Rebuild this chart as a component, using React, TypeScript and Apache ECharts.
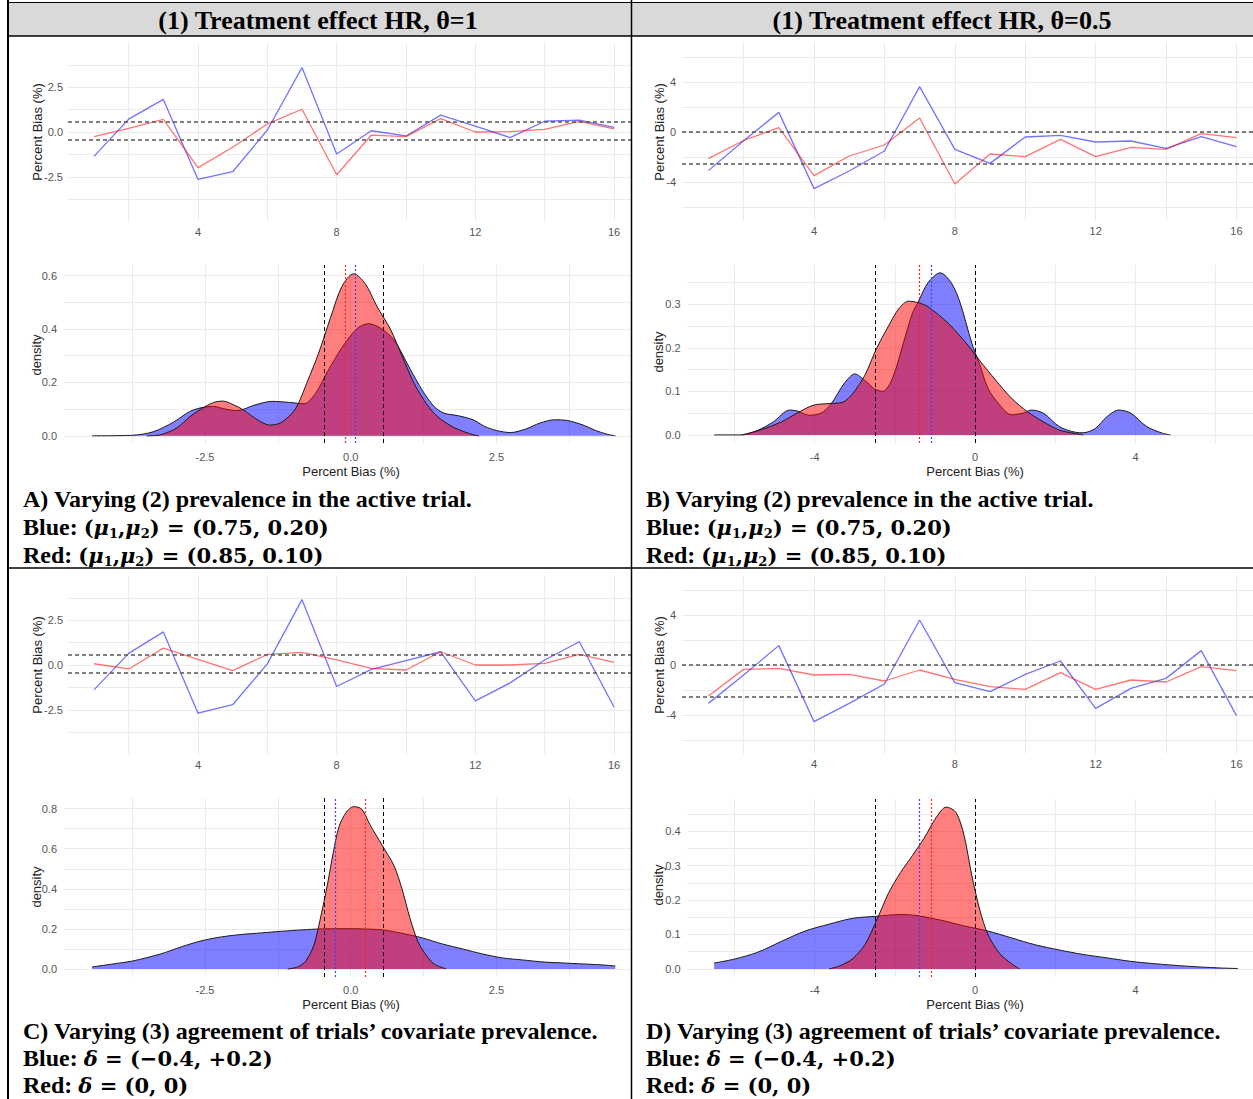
import React, { useEffect, useRef } from "react";
import * as echarts from "echarts";

// ---------- data ----------
const trials = [1, 2, 3, 4, 5, 6, 7, 8, 9, 10, 11, 12, 13, 14, 15, 16];

const blueA = [-1.36, 0.72, 1.82, -2.65, -2.22, 0.11, 3.6, -1.23, 0.07, -0.22, 0.94, 0.33, -0.31, 0.6, 0.66, 0.26];
const redA = [-0.26, 0.2, 0.7, -1.99, -0.85, 0.45, 1.27, -2.39, -0.17, -0.26, 0.75, 0.0, 0.02, 0.15, 0.6, 0.17];
const blueB = [-3.09, -0.7, 1.57, -4.53, -3.12, -1.52, 3.63, -1.39, -2.51, -0.4, -0.27, -0.8, -0.72, -1.31, -0.37, -1.17];
const redB = [-2.13, -0.68, 0.35, -3.49, -1.92, -1.04, 1.12, -4.16, -1.76, -1.97, -0.59, -1.97, -1.23, -1.39, -0.13, -0.45];
const blueC = [-1.39, 0.65, 1.85, -2.69, -2.22, 0.06, 3.65, -1.2, -0.24, 0.24, 0.74, -2.0, -1.0, 0.28, 1.3, -2.35];
const redC = [0.07, -0.22, 0.94, 0.31, -0.31, 0.59, 0.7, 0.28, -0.19, -0.28, 0.74, 0.0, 0.0, 0.09, 0.59, 0.15];
const blueD = [-3.07, -0.8, 1.55, -4.53, -3.07, -1.52, 3.6, -1.41, -2.13, -0.75, 0.32, -3.47, -1.87, -1.07, 1.15, -4.05];
const redD = [-2.48, -0.35, -0.27, -0.8, -0.75, -1.28, -0.4, -1.15, -1.73, -1.95, -0.61, -1.95, -1.2, -1.36, -0.13, -0.45];

const dashedAC = [0.55, -0.45];
const dashedBD = [0, -2.5];

// density curves: [percent bias, density]
const densBlueA = [
  [-4.44, 0], [-3.74, 0.002], [-3.39, 0.015], [-3.05, 0.05], [-2.77, 0.09], [-2.57, 0.105], [-2.36, 0.11],
  [-2.15, 0.1], [-1.95, 0.094], [-1.65, 0.115], [-1.35, 0.129], [-1.05, 0.125], [-0.8, 0.12], [-0.6, 0.16],
  [-0.4, 0.24], [-0.15, 0.33], [0.1, 0.4], [0.3, 0.42], [0.5, 0.405], [0.74, 0.36], [1.02, 0.25], [1.23, 0.17],
  [1.43, 0.11], [1.6, 0.085], [1.85, 0.075], [2.1, 0.06], [2.3, 0.035], [2.5, 0.02], [2.74, 0.012], [3.0, 0.025],
  [3.25, 0.048], [3.5, 0.06], [3.7, 0.058], [3.99, 0.04], [4.2, 0.02], [4.4, 0.006], [4.54, 0],
];
const densRedA = [
  [-3.5, 0], [-3.26, 0.004], [-2.98, 0.03], [-2.77, 0.07], [-2.57, 0.1], [-2.35, 0.125], [-2.19, 0.13],
  [-2.0, 0.115], [-1.85, 0.098], [-1.6, 0.06], [-1.39, 0.04], [-1.19, 0.05], [-0.95, 0.1], [-0.75, 0.2],
  [-0.55, 0.31], [-0.35, 0.44], [-0.15, 0.56], [0.05, 0.607], [0.25, 0.57], [0.45, 0.485], [0.68, 0.4],
  [0.88, 0.3], [1.08, 0.2], [1.3, 0.12], [1.5, 0.07], [1.78, 0.03], [2.1, 0.004], [2.2, 0],
];
const densBlueB = [
  [-6.51, 0], [-5.82, 0.0], [-5.43, 0.01], [-5.03, 0.03], [-4.63, 0.057], [-4.44, 0.055], [-4.14, 0.045],
  [-3.84, 0.05], [-3.6, 0.07], [-3.25, 0.12], [-3.0, 0.14], [-2.75, 0.125], [-2.5, 0.105], [-2.3, 0.1],
  [-2.06, 0.13], [-1.76, 0.22], [-1.56, 0.28], [-1.42, 0.305], [-1.17, 0.35], [-0.87, 0.372], [-0.6, 0.35],
  [-0.38, 0.305], [-0.08, 0.21], [0.12, 0.16], [0.32, 0.107], [0.61, 0.069], [0.91, 0.046], [1.2, 0.05],
  [1.4, 0.057], [1.7, 0.05], [2.1, 0.019], [2.5, 0.006], [2.7, 0.005], [3.0, 0.015], [3.29, 0.042],
  [3.58, 0.057], [3.88, 0.05], [4.28, 0.019], [4.67, 0.004], [4.87, 0],
];
const densRedB = [
  [-5.82, 0], [-5.33, 0.012], [-4.83, 0.03], [-4.44, 0.05], [-4.04, 0.068], [-3.64, 0.072], [-3.3, 0.075],
  [-3.05, 0.095], [-2.75, 0.137], [-2.46, 0.198], [-2.16, 0.25], [-1.9, 0.29], [-1.66, 0.307], [-1.4, 0.303],
  [-1.17, 0.294], [-0.67, 0.256], [-0.18, 0.206], [0.12, 0.17], [0.51, 0.126], [0.91, 0.084], [1.31, 0.053],
  [1.7, 0.03], [2.1, 0.011], [2.5, 0.003], [2.7, 0],
];
const densBlueC = [
  [-4.44, 0.01], [-4.08, 0.025], [-3.74, 0.04], [-3.26, 0.075], [-2.91, 0.11], [-2.57, 0.14], [-2.22, 0.16],
  [-1.88, 0.172], [-1.53, 0.18], [-1.19, 0.188], [-0.84, 0.195], [-0.5, 0.2], [-0.15, 0.201], [0.19, 0.2],
  [0.54, 0.195], [0.88, 0.178], [1.23, 0.155], [1.57, 0.125], [1.92, 0.1], [2.26, 0.075], [2.61, 0.055],
  [2.95, 0.045], [3.3, 0.035], [3.64, 0.03], [3.99, 0.025], [4.33, 0.02], [4.54, 0.015],
];
const densRedC = [
  [-1.08, 0], [-0.91, 0.01], [-0.77, 0.04], [-0.63, 0.12], [-0.5, 0.28], [-0.4, 0.42], [-0.3, 0.58],
  [-0.2, 0.71], [-0.08, 0.78], [0.05, 0.81], [0.19, 0.797], [0.33, 0.72], [0.54, 0.617], [0.74, 0.517],
  [0.88, 0.4], [1.02, 0.25], [1.16, 0.133], [1.3, 0.067], [1.43, 0.025], [1.64, 0],
];
const densBlueD = [
  [-6.51, 0.017], [-6.02, 0.028], [-5.43, 0.048], [-4.83, 0.08], [-4.24, 0.11], [-3.64, 0.13], [-3.05, 0.147],
  [-2.46, 0.153], [-1.86, 0.158], [-1.47, 0.155], [-0.87, 0.142], [-0.28, 0.125], [0.32, 0.11], [0.91, 0.09],
  [1.5, 0.07], [2.1, 0.055], [2.69, 0.042], [3.29, 0.032], [3.88, 0.022], [4.48, 0.015], [5.27, 0.008],
  [6.06, 0.003], [6.55, 0.001],
];
const densRedD = [
  [-3.64, 0], [-3.35, 0.01], [-3.05, 0.03], [-2.75, 0.07], [-2.46, 0.14], [-2.16, 0.22], [-1.86, 0.28],
  [-1.56, 0.33], [-1.27, 0.38], [-0.97, 0.44], [-0.72, 0.47], [-0.48, 0.455], [-0.28, 0.39], [-0.08, 0.27],
  [0.12, 0.17], [0.32, 0.1], [0.61, 0.045], [0.91, 0.015], [1.11, 0],
];

// vertical reference lines in the density panels
const densDashedAC = [-0.45, 0.55];
const densDashedBD = [-2.5, 0];
const meanRedA = -0.09, meanBlueA = 0.07;
const meanRedB = -1.39, meanBlueB = -1.1;
const meanRedC = 0.25, meanBlueC = -0.27;
const meanRedD = -1.1, meanBlueD = -1.39;

// tick values
const lineXTicks = [2, 4, 6, 8, 10, 12, 14, 16];
const lineXLabels = [4, 8, 12, 16];
const biasTicksAC = [-3.75, -2.5, -1.25, 0, 1.25, 2.5, 3.75];
const biasLabelsAC = [-2.5, 0, 2.5];
const biasTicksBD = [-6, -4, -2, 0, 2, 4, 6];
const biasLabelsBD = [-4, 0, 4];
const densYTicksA = [0, 0.1, 0.2, 0.3, 0.4, 0.5, 0.6];
const densYLabelsA = [0, 0.2, 0.4, 0.6];
const densYTicksB = [0, 0.05, 0.1, 0.15, 0.2, 0.25, 0.3, 0.35];
const densYLabelsB = [0, 0.1, 0.2, 0.3];
const densYTicksC = [0, 0.1, 0.2, 0.3, 0.4, 0.5, 0.6, 0.7, 0.8];
const densYLabelsC = [0, 0.2, 0.4, 0.6, 0.8];
const densYTicksD = [0, 0.05, 0.1, 0.15, 0.2, 0.25, 0.3, 0.35, 0.4, 0.45];
const densYLabelsD = [0, 0.1, 0.2, 0.3, 0.4];

// texts
const headerLeft = "(1) Treatment effect HR, θ=1";
const headerRight = "(1) Treatment effect HR, θ=0.5";
const capA = [
  "A) Varying (2) prevalence in the active trial.",
  "{b|Blue: }{m|(}{i|μ}{s|1}{m|,}{i|μ}{s|2}{m|) = (0.75, 0.20)}",
  "{b|Red: }{m|(}{i|μ}{s|1}{m|,}{i|μ}{s|2}{m|) = (0.85, 0.10)}",
];
const capB = [
  "B) Varying (2) prevalence in the active trial.",
  "{b|Blue: }{m|(}{i|μ}{s|1}{m|,}{i|μ}{s|2}{m|) = (0.75, 0.20)}",
  "{b|Red: }{m|(}{i|μ}{s|1}{m|,}{i|μ}{s|2}{m|) = (0.85, 0.10)}",
];
const capC = [
  "C) Varying (3) agreement of trials’ covariate prevalence.",
  "{b|Blue: }{i|δ}{m| = (−0.4, +0.2)}",
  "{b|Red: }{i|δ}{m| = (0, 0)}",
];
const capD = [
  "D) Varying (3) agreement of trials’ covariate prevalence.",
  "{b|Blue: }{i|δ}{m| = (−0.4, +0.2)}",
  "{b|Red: }{i|δ}{m| = (0, 0)}",
];

// ---------- styling ----------
const GRID = "#ebebeb";
const SANS = '"Liberation Sans", Arial, sans-serif';
const SERIF = '"Liberation Serif", "Times New Roman", serif';
const MATH = '"DejaVu Serif", serif';
const TICK_COLOR = "#555";
const BLUE_LINE = "rgba(0,0,255,0.55)";
const RED_LINE = "rgba(255,0,0,0.55)";

type Panel = {
  kind: "line" | "dens";
  grid: { left: number; top: number; width: number; height: number };
  x: { min: number; max: number; ticks: number[]; labels: number[]; dec: number; margin: number };
  y: { min: number; max: number; ticks: number[]; labels: number[]; dec: number; margin: number };
  blue: any;
  red: any;
  dashed: number[];
  meanRed?: number;
  meanBlue?: number;
};

const panels: Panel[] = [
  {
    kind: "line", grid: { left: 68, top: 42.5, width: 563, height: 179 },
    x: { min: 0.25, max: 16.49, ticks: lineXTicks, labels: lineXLabels, dec: 0, margin: 5 },
    y: { min: -5, max: 5, ticks: biasTicksAC, labels: biasLabelsAC, dec: 1, margin: 5 },
    blue: blueA, red: redA, dashed: dashedAC,
  },
  {
    kind: "line", grid: { left: 682, top: 42, width: 571, height: 178.75 },
    x: { min: 0.25, max: 16.47, ticks: lineXTicks, labels: lineXLabels, dec: 0, margin: 5 },
    y: { min: -7.1, max: 7.2, ticks: biasTicksBD, labels: biasLabelsBD, dec: 0, margin: 6 },
    blue: blueB, red: redB, dashed: dashedBD,
  },
  {
    kind: "dens", grid: { left: 64, top: 265, width: 567, height: 178 },
    x: { min: -4.92, max: 4.81, ticks: biasTicksAC, labels: biasLabelsAC, dec: 1, margin: 8 },
    y: { min: -0.027, max: 0.64, ticks: densYTicksA, labels: densYLabelsA, dec: 1, margin: 7 },
    blue: densBlueA, red: densRedA, dashed: densDashedAC, meanRed: meanRedA, meanBlue: meanBlueA,
  },
  {
    kind: "dens", grid: { left: 687.6, top: 265, width: 565.4, height: 178 },
    x: { min: -7.17, max: 6.93, ticks: biasTicksBD, labels: biasLabelsBD, dec: 0, margin: 8 },
    y: { min: -0.0186, max: 0.39, ticks: densYTicksB, labels: densYLabelsB, dec: 1, margin: 7 },
    blue: densBlueB, red: densRedB, dashed: densDashedBD, meanRed: meanRedB, meanBlue: meanBlueB,
  },
  {
    kind: "line", grid: { left: 68, top: 575.5, width: 563, height: 179 },
    x: { min: 0.25, max: 16.49, ticks: lineXTicks, labels: lineXLabels, dec: 0, margin: 5 },
    y: { min: -5, max: 5, ticks: biasTicksAC, labels: biasLabelsAC, dec: 1, margin: 5 },
    blue: blueC, red: redC, dashed: dashedAC,
  },
  {
    kind: "line", grid: { left: 682, top: 575, width: 571, height: 178.75 },
    x: { min: 0.25, max: 16.47, ticks: lineXTicks, labels: lineXLabels, dec: 0, margin: 5 },
    y: { min: -7.1, max: 7.2, ticks: biasTicksBD, labels: biasLabelsBD, dec: 0, margin: 6 },
    blue: blueD, red: redD, dashed: dashedBD,
  },
  {
    kind: "dens", grid: { left: 64, top: 798, width: 567, height: 179 },
    x: { min: -4.92, max: 4.81, ticks: biasTicksAC, labels: biasLabelsAC, dec: 1, margin: 7 },
    y: { min: -0.04, max: 0.853, ticks: densYTicksC, labels: densYLabelsC, dec: 1, margin: 7 },
    blue: densBlueC, red: densRedC, dashed: densDashedAC, meanRed: meanRedC, meanBlue: meanBlueC,
  },
  {
    kind: "dens", grid: { left: 687.6, top: 799, width: 565.4, height: 178 },
    x: { min: -7.17, max: 6.93, ticks: biasTicksBD, labels: biasLabelsBD, dec: 0, margin: 7 },
    y: { min: -0.0235, max: 0.4935, ticks: densYTicksD, labels: densYLabelsD, dec: 1, margin: 7 },
    blue: densBlueD, red: densRedD, dashed: densDashedBD, meanRed: meanRedD, meanBlue: meanBlueD,
  },
];

function axis(idx: number, cfg: Panel["x"]) {
  return {
    type: "value",
    gridIndex: idx,
    min: cfg.min,
    max: cfg.max,
    axisLine: { show: false },
    axisTick: { show: false, customValues: cfg.ticks },
    axisLabel: {
      customValues: cfg.labels,
      formatter: (v: number) => Number(v).toFixed(cfg.dec),
      color: TICK_COLOR,
      fontSize: 11,
      fontFamily: SANS,
      margin: cfg.margin,
    },
    splitLine: { show: true, lineStyle: { color: GRID, width: 1 } },
  };
}

function buildOption() {
  const grids: any[] = [];
  const xAxes: any[] = [];
  const yAxes: any[] = [];
  const series: any[] = [];

  panels.forEach((p, idx) => {
    grids.push({ ...p.grid, containLabel: false });
    xAxes.push(axis(idx, p.x));
    yAxes.push(axis(idx, p.y));
    if (p.kind === "line") {
      series.push({
        type: "line", xAxisIndex: idx, yAxisIndex: idx, silent: true,
        data: trials.map((t, i) => [t, p.blue[i]]),
        symbol: "none", showSymbol: false,
        lineStyle: { color: BLUE_LINE, width: 1.3 },
        z: 3,
      });
      series.push({
        type: "line", xAxisIndex: idx, yAxisIndex: idx, silent: true,
        data: trials.map((t, i) => [t, p.red[i]]),
        symbol: "none", showSymbol: false,
        lineStyle: { color: RED_LINE, width: 1.3 },
        z: 3,
        markLine: {
          silent: true, symbol: ["none", "none"], label: { show: false },
          lineStyle: { color: "#555", type: [4, 3], width: 1.5 },
          data: p.dashed.map((v) => ({ yAxis: v })),
        },
      });
    } else {
      series.push({
        type: "line", xAxisIndex: idx, yAxisIndex: idx, silent: true,
        data: p.blue, smooth: 0.3, symbol: "none", showSymbol: false,
        lineStyle: { color: "#1a1a1a", width: 1 },
        areaStyle: { color: "#0000ff", opacity: 0.5 },
        z: 2,
      });
      series.push({
        type: "line", xAxisIndex: idx, yAxisIndex: idx, silent: true,
        data: p.red, smooth: 0.3, symbol: "none", showSymbol: false,
        lineStyle: { color: "#1a1a1a", width: 1 },
        areaStyle: { color: "#ff0000", opacity: 0.5 },
        z: 3,
        markLine: {
          silent: true, symbol: ["none", "none"], label: { show: false },
          data: [
            ...p.dashed.map((v) => ({ xAxis: v, lineStyle: { color: "#000", type: [4, 3], width: 1 } })),
            { xAxis: p.meanRed, lineStyle: { color: "#ff2020", type: [2, 2], width: 1.2 } },
            { xAxis: p.meanBlue, lineStyle: { color: "#4040ff", type: [2, 2], width: 1.2 } },
          ],
        },
      });
    }
  });

  const titleStyle = { fontSize: 13, fontFamily: SANS, fill: "#222", align: "center", verticalAlign: "middle" };
  const vTitle = (text: string, x: number, y: number) => ({
    type: "text", x, y, rotation: Math.PI / 2, silent: true, z: 50,
    style: { ...titleStyle, text },
  });
  const hTitle = (text: string, x: number, y: number) => ({
    type: "text", x, y, silent: true, z: 50,
    style: { ...titleStyle, text },
  });

  const rich = {
    b: { fontFamily: SERIF, fontWeight: "bold", fontSize: 24, lineHeight: 26, fill: "#000" },
    m: { fontFamily: MATH, fontWeight: "bold", fontSize: 21, lineHeight: 26, fill: "#000" },
    i: { fontFamily: MATH, fontWeight: "bold", fontStyle: "italic", fontSize: 21, lineHeight: 26, fill: "#000" },
    s: { fontFamily: MATH, fontWeight: "bold", fontSize: 13, lineHeight: 18, verticalAlign: "bottom", fill: "#000" },
  };
  const caption = (lines: string[], x: number, y: number, gap: number) => [
    {
      type: "text", x, y, silent: true, z: 50,
      style: { text: lines[0], font: `bold 24px ${SERIF}`, fill: "#000", verticalAlign: "middle", align: "left" },
    },
    {
      type: "text", x, y: y + gap, silent: true, z: 50,
      style: { text: lines[1], rich, verticalAlign: "middle", align: "left" },
    },
    {
      type: "text", x, y: y + 2 * gap, silent: true, z: 50,
      style: { text: lines[2], rich, verticalAlign: "middle", align: "left" },
    },
  ];

  const line = (x1: number, y1: number, x2: number, y2: number, w: number) => ({
    type: "line", silent: true, z: 100,
    shape: { x1, y1, x2, y2 },
    style: { stroke: "#000", lineWidth: w },
  });

  const graphic: any[] = [
    { type: "rect", silent: true, z: 1, shape: { x: 8, y: 3, width: 1245, height: 33 }, style: { fill: "#d9d9d9" } },
    {
      type: "text", x: 318, y: 20, silent: true, z: 50,
      style: { text: headerLeft, font: `bold 26px ${SERIF}`, fill: "#000", align: "center", verticalAlign: "middle" },
    },
    {
      type: "text", x: 942, y: 20, silent: true, z: 50,
      style: { text: headerRight, font: `bold 26px ${SERIF}`, fill: "#000", align: "center", verticalAlign: "middle" },
    },
    line(8, 2.5, 1253, 2.5, 1),
    line(8, 36, 1253, 36, 1.5),
    line(8, 568, 1253, 568, 1.5),
    line(8, 0, 8, 1099, 2),
    line(631.5, 0, 631.5, 1099, 1.5),
    vTitle("Percent Bias (%)", 37, 132),
    vTitle("Percent Bias (%)", 659, 132),
    vTitle("Percent Bias (%)", 37, 665),
    vTitle("Percent Bias (%)", 659, 665),
    vTitle("density", 36, 355),
    vTitle("density", 658, 352),
    vTitle("density", 36, 887),
    vTitle("density", 658, 885),
    hTitle("Percent Bias (%)", 351, 471),
    hTitle("Percent Bias (%)", 975, 471),
    hTitle("Percent Bias (%)", 351, 1004),
    hTitle("Percent Bias (%)", 975, 1004),
    ...caption(capA, 23, 499, 28),
    ...caption(capB, 646, 499, 28),
    ...caption(capC, 23, 1031, 27),
    ...caption(capD, 646, 1031, 27),
  ];

  return {
    animation: false,
    backgroundColor: "#fff",
    grid: grids,
    xAxis: xAxes,
    yAxis: yAxes,
    series,
    graphic,
  };
}

export default function App() {
  const ref = useRef<HTMLDivElement>(null);
  useEffect(() => {
    if (!ref.current) return;
    const chart = echarts.init(ref.current, null, { renderer: "svg" });
    chart.setOption(buildOption() as any);
    return () => chart.dispose();
  }, []);
  return (
    <div
      ref={ref}
      style={{ position: "absolute", left: 0, top: 0, width: 1253, height: 1099, background: "#fff" }}
    />
  );
}
